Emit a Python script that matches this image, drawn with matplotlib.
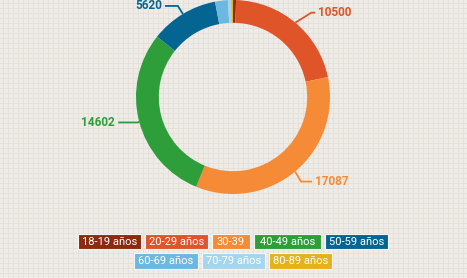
import numpy as np
import matplotlib
matplotlib.use("Agg")
import matplotlib.pyplot as plt
from matplotlib.patches import Rectangle

# ---- data ----
categories = ["18-19 años", "20-29 años", "30-39", "40-49 años", "50-59 años",
              "60-69 años", "70-79 años", "80-89 años"]
values = [250, 10500, 17087, 14602, 5620, 1060, 260, 150]
colors = ["#8a2a10", "#e0542a", "#f58b36", "#2e9e3b", "#056592",
          "#6bb8e0", "#a6d6ee", "#e3b21c"]

W, H = 467, 278
fig = plt.figure(figsize=(W / 100, H / 100), dpi=100)
fig.patch.set_facecolor("#efece7")

FONT = ["Roboto", "DejaVu Sans"]

# background grid overlay (pixel coords)
bg = fig.add_axes([0, 0, 1, 1])
bg.set_xlim(0, W)
bg.set_ylim(H, 0)
bg.axis("off")
for x in np.arange(2.5, W, 5):
    bg.axvline(x, color="#e4e1db", lw=0.7, zorder=0)
for y in np.arange(2.5, H, 5):
    bg.axhline(y, color="#e4e1db", lw=0.7, zorder=0)

# donut
cx, cy, R = 233, 97, 97
ax = fig.add_axes([(cx - R) / W, (H - cy - R) / H, 2 * R / W, 2 * R / H])
wedges, _ = ax.pie(values, colors=colors, startangle=90, counterclock=False,
                   radius=1.0, wedgeprops=dict(width=0.235, edgecolor="none"))
ax.set_xlim(-1, 1)
ax.set_ylim(-1, 1)
ax.set_aspect("equal")
ax.axis("off")

# label layout: (elbow dx, elbow dy, horizontal length) in pixels, text side
layout = {
    1: (16, -10, 4, "left"),
    2: (6, 10, 11, "left"),
    3: (-1, 1, -20, "right"),
    4: (-5, -8, -13, "right"),
}
total = sum(values)
cum = 0
for i, v in enumerate(values):
    mid = 90 - (cum + v / 2) / total * 360
    cum += v
    if i not in layout:
        continue
    ex, ey, hl, side = layout[i]
    a = np.deg2rad(mid)
    px, py = np.cos(a) * R, -np.sin(a) * R  # pixel offsets (y down)
    p0 = (cx + px, cy + py)
    p1 = (p0[0] + ex, p0[1] + ey)
    p2 = (p1[0] + hl, p1[1])
    bg.plot([p0[0], p1[0], p2[0]], [p0[1], p1[1], p2[1]], color=colors[i],
            lw=1.3, solid_capstyle="butt", zorder=3)
    tx = p2[0] + (3 if side == "left" else -3)
    bg.text(tx, p2[1], f"{v}", color=colors[i], fontsize=8.5, fontweight="bold",
            family=FONT, ha=side, va="center", zorder=4)

# legend boxes (pixel layout)
rows = [
    [(78, 141), (145, 208), (212, 250), (254, 321), (325, 388)],
    [(134, 198), (202, 265), (269, 332)],
]
row_y = [(234, 249), (253, 269)]
k = 0
for r, boxes in enumerate(rows):
    y0, y1 = row_y[r]
    for (x0, x1) in boxes:
        bg.add_patch(Rectangle((x0, y0), x1 - x0, y1 - y0, facecolor=colors[k],
                               edgecolor="#f7f5f1", lw=0.8, zorder=3))
        bg.text((x0 + x1) / 2, (y0 + y1) / 2 + 0.5, categories[k], color="white",
                fontsize=8, family=FONT, ha="center", va="center", zorder=4)
        k += 1

fig.savefig("out.png", dpi=100, facecolor=fig.get_facecolor())
